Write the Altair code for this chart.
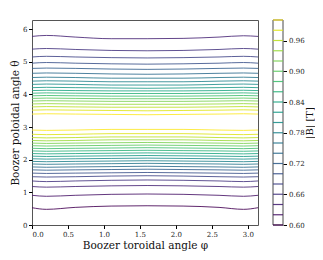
import altair as alt
import pandas as pd

# Boozer toroidal angle sample points
PHI = [0.0, 0.2, 0.6, 1.1, 1.6, 2.1, 2.6, 2.94, 3.1416]

# contour levels of |B| [T]
LEVELS = [0.60, 0.62, 0.64, 0.66, 0.68, 0.70, 0.72, 0.74, 0.76, 0.78, 0.80,
          0.82, 0.84, 0.86, 0.88, 0.90, 0.92, 0.94, 0.96, 0.98, 1.00]

# upper branch (theta > pi): level -> theta at PHI
UPPER = {
    1.00: [3.40, 3.41, 3.40, 3.39, 3.38, 3.39, 3.40, 3.41, 3.40],
    0.98: [3.52, 3.53, 3.52, 3.51, 3.50, 3.51, 3.52, 3.53, 3.52],
    0.96: [3.62, 3.63, 3.62, 3.61, 3.61, 3.61, 3.62, 3.63, 3.62],
    0.94: [3.71, 3.72, 3.71, 3.70, 3.70, 3.70, 3.71, 3.72, 3.71],
    0.92: [3.80, 3.81, 3.80, 3.79, 3.79, 3.79, 3.80, 3.81, 3.80],
    0.90: [3.88, 3.89, 3.88, 3.87, 3.87, 3.87, 3.88, 3.89, 3.88],
    0.88: [3.96, 3.97, 3.96, 3.95, 3.95, 3.95, 3.96, 3.97, 3.96],
    0.86: [4.04, 4.05, 4.04, 4.03, 4.03, 4.03, 4.04, 4.05, 4.04],
    0.84: [4.12, 4.13, 4.12, 4.11, 4.11, 4.11, 4.12, 4.13, 4.12],
    0.82: [4.21, 4.22, 4.21, 4.20, 4.19, 4.20, 4.21, 4.22, 4.21],
    0.80: [4.31, 4.32, 4.31, 4.29, 4.29, 4.29, 4.31, 4.32, 4.31],
    0.78: [4.41, 4.42, 4.41, 4.39, 4.39, 4.39, 4.41, 4.42, 4.41],
    0.76: [4.52, 4.53, 4.52, 4.50, 4.50, 4.50, 4.52, 4.53, 4.52],
    0.74: [4.65, 4.66, 4.65, 4.63, 4.62, 4.63, 4.65, 4.66, 4.65],
    0.72: [4.80, 4.81, 4.80, 4.78, 4.77, 4.78, 4.80, 4.81, 4.80],
    0.70: [4.96, 4.98, 4.96, 4.94, 4.93, 4.94, 4.96, 4.98, 4.96],
    0.68: [5.15, 5.17, 5.15, 5.13, 5.12, 5.13, 5.15, 5.17, 5.15],
    0.66: [5.39, 5.41, 5.38, 5.35, 5.34, 5.35, 5.38, 5.41, 5.39],
    0.64: [5.78, 5.81, 5.76, 5.71, 5.71, 5.72, 5.76, 5.80, 5.78],
}

# lower branch (theta < pi): level -> theta at PHI
LOWER = {
    1.00: [2.91, 2.90, 2.91, 2.93, 2.93, 2.93, 2.91, 2.90, 2.91],
    0.98: [2.78, 2.77, 2.78, 2.80, 2.80, 2.80, 2.78, 2.77, 2.78],
    0.96: [2.68, 2.67, 2.68, 2.70, 2.70, 2.70, 2.68, 2.67, 2.68],
    0.94: [2.59, 2.58, 2.59, 2.61, 2.61, 2.61, 2.59, 2.58, 2.59],
    0.92: [2.51, 2.50, 2.51, 2.52, 2.53, 2.52, 2.51, 2.50, 2.51],
    0.90: [2.43, 2.42, 2.43, 2.44, 2.45, 2.44, 2.43, 2.42, 2.43],
    0.88: [2.35, 2.34, 2.35, 2.36, 2.37, 2.36, 2.35, 2.34, 2.35],
    0.86: [2.27, 2.26, 2.27, 2.28, 2.29, 2.28, 2.27, 2.26, 2.27],
    0.84: [2.19, 2.18, 2.19, 2.20, 2.21, 2.20, 2.19, 2.18, 2.19],
    0.82: [2.11, 2.10, 2.11, 2.12, 2.13, 2.12, 2.11, 2.10, 2.11],
    0.80: [2.03, 2.02, 2.03, 2.04, 2.05, 2.04, 2.03, 2.02, 2.03],
    0.78: [1.95, 1.94, 1.95, 1.96, 1.97, 1.96, 1.95, 1.94, 1.95],
    0.76: [1.87, 1.86, 1.87, 1.88, 1.89, 1.88, 1.87, 1.86, 1.87],
    0.74: [1.78, 1.77, 1.78, 1.79, 1.80, 1.79, 1.78, 1.77, 1.78],
    0.72: [1.69, 1.68, 1.69, 1.70, 1.71, 1.70, 1.69, 1.68, 1.69],
    0.70: [1.59, 1.58, 1.59, 1.60, 1.61, 1.60, 1.59, 1.58, 1.59],
    0.68: [1.48, 1.47, 1.48, 1.50, 1.51, 1.50, 1.48, 1.47, 1.48],
    0.66: [1.35, 1.33, 1.35, 1.37, 1.38, 1.37, 1.35, 1.33, 1.35],
    0.64: [1.18, 1.16, 1.18, 1.20, 1.21, 1.20, 1.18, 1.16, 1.18],
    0.62: [0.91, 0.88, 0.91, 0.94, 0.95, 0.94, 0.91, 0.88, 0.91],
    0.60: [0.53, 0.48, 0.54, 0.58, 0.59, 0.58, 0.54, 0.48, 0.53],
}

X_TICKS = [0.0, 0.5, 1.0, 1.5, 2.0, 2.5, 3.0]
Y_TICKS = [0, 1, 2, 3, 4, 5, 6]
CB_TICKS = [0.60, 0.66, 0.72, 0.78, 0.84, 0.90, 0.96]

rows = []
for branch, table in (("u", UPPER), ("l", LOWER)):
    for lev, thetas in table.items():
        for p, t in zip(PHI, thetas):
            rows.append({"line": f"{branch}{lev:.2f}", "level": lev, "phi": p, "theta": t})
df = pd.DataFrame(rows)
cb = pd.DataFrame({"level": LEVELS})
frame = pd.DataFrame({"a": [0]})

W, H = 226, 205
FONT = "DejaVu Serif"
color_scale = alt.Scale(scheme="viridis", domain=[0.60, 1.00])

contours = alt.Chart(df).mark_line(interpolate="monotone", strokeWidth=1.0, opacity=0.85).encode(
    x=alt.X("phi:Q", scale=alt.Scale(domain=[0, 3.1416], nice=False, zero=False),
            axis=alt.Axis(values=X_TICKS, format=".1f", title="Boozer toroidal angle φ",
                          grid=False, domain=False, tickSize=3.5, tickColor="#000",
                          labelFont=FONT, labelFontSize=7, labelColor="#222", labelPadding=1.5,
                          titleFont=FONT, titleFontSize=10.5, titleFontWeight="normal",
                          titleColor="#111", titlePadding=3)),
    y=alt.Y("theta:Q", scale=alt.Scale(domain=[0, 6.2832], nice=False, zero=False),
            axis=alt.Axis(values=Y_TICKS, format="d", title="Boozer poloidal angle θ",
                          grid=False, domain=False, tickSize=3.5, tickColor="#000",
                          labelFont=FONT, labelFontSize=7, labelColor="#222", labelPadding=1.5,
                          titleFont=FONT, titleFontSize=10.5, titleFontWeight="normal",
                          titleColor="#111", titlePadding=2)),
    color=alt.Color("level:Q", scale=color_scale, legend=None),
    detail="line:N",
)

cb_lines = alt.Chart(cb).mark_rule(strokeWidth=1.2, opacity=0.9).encode(
    x=alt.value(W + 15),
    x2=alt.value(W + 25),
    y=alt.Y("level:Q", scale=alt.Scale(domain=[0.60, 1.00], nice=False, zero=False),
            axis=alt.Axis(orient="right", offset=25, values=CB_TICKS, format=".2f",
                          title="|B| [T]", titleAngle=270, titleBaseline="middle",
                          titleAlign="center", titleX=26, titleY=H / 2,
                          grid=False, domain=False,
                          tickSize=3.5, tickColor="#000",
                          labelFont=FONT, labelFontSize=7, labelColor="#222", labelPadding=2,
                          titleFont=FONT, titleFontSize=10, titleFontWeight="normal",
                          titleColor="#111")),
    color=alt.Color("level:Q", scale=color_scale, legend=None),
)

cb_frame = alt.Chart(frame).mark_rect(fill=None, stroke="#333", strokeWidth=0.9).encode(
    x=alt.value(W + 15), x2=alt.value(W + 25), y=alt.value(0), y2=alt.value(H),
)

chart = alt.layer(contours, cb_frame, cb_lines).resolve_scale(y="independent").properties(
    width=W, height=H,
    autosize=alt.AutoSizeParams(type="none"),
    padding={"left": 24, "top": 12, "right": 57, "bottom": 27},
).configure_view(stroke="#555", strokeWidth=1)

chart.save("out.html", embed_options={"renderer": "svg", "actions": False})
